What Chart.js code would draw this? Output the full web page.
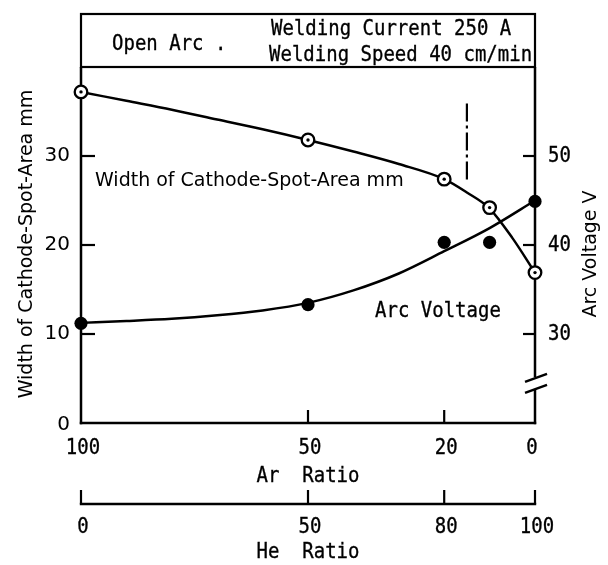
<!DOCTYPE html>
<html><head><meta charset="utf-8">
<script src="https://cdn.jsdelivr.net/npm/chart.js@4/dist/chart.umd.min.js"></script>
<style>html,body{margin:0;padding:0;background:#fff}#wrap{width:608px;height:565px}</style>
</head><body><div id="wrap"><canvas id="c" width="608" height="565"></canvas></div>
<script>
// He ratio (%) of the measured points; Ar ratio = 100 - He
const heRatio = [0, 50, 80, 90, 100];
const widthMm = [37.2, 31.8, 27.4, 24.2, 16.9];
const arcVoltage = [31.2, 33.3, 40.3, 40.3, 44.9];
// hand-drawn curves
const widthFitHe = [0, 10, 20, 30, 40, 50, 60, 70, 80, 85, 90, 95, 100];
const widthFit = [37.2, 36.2, 35.2, 34.1, 33.0, 31.8, 30.5, 29.1, 27.4, 25.9, 24.1, 20.8, 16.9];
const voltageFitHe = [0, 10, 20, 30, 40, 50, 60, 70, 80, 90, 100];
const voltageFit = [31.25, 31.45, 31.7, 32.1, 32.65, 33.5, 34.9, 36.8, 39.3, 41.9, 45.0];
// dash-dot boundary mark
const boundaryHe = [85, 85];
const boundaryWidth = [35.9, 26.9];
// axes
const heTicks = [0, 50, 80, 100];
const arTickLabels = ['100', '50', '20', '0'];
const heTickLabels = ['0', '50', '80', '100'];
const widthTicks = [0, 10, 20, 30];
const voltageTicks = [30, 40, 50];

const pts = (xs, ys) => xs.map((x, i) => ({x: x, y: ys[i]}));

const MONO = '"DejaVu Sans Mono", "Liberation Mono", monospace';
const SANS = '"DejaVu Sans", "Liberation Sans", sans-serif';

function mono(ctx, s, x, y, align) {
  ctx.save();
  ctx.translate(x, y);
  ctx.scale(1, 1.13);
  ctx.font = '19px ' + MONO;
  ctx.textAlign = align || 'center';
  ctx.textBaseline = 'middle';
  ctx.fillStyle = '#000';
  ctx.strokeStyle = '#000';
  ctx.lineWidth = 0.3;
  ctx.fillText(s, 0, 0);
  ctx.strokeText(s, 0, 0);
  ctx.restore();
}
function sans(ctx, s, x, y, align, rot, size) {
  ctx.save();
  ctx.translate(x, y);
  if (rot) ctx.rotate(rot);
  ctx.font = (size || 19) + 'px ' + SANS;
  ctx.textAlign = align || 'center';
  ctx.textBaseline = 'middle';
  ctx.fillStyle = '#000';
  ctx.fillText(s, 0, 0);
  ctx.restore();
}
function line(ctx, x1, y1, x2, y2, w) {
  ctx.beginPath();
  ctx.lineWidth = w || 2.5;
  ctx.moveTo(x1, y1);
  ctx.lineTo(x2, y2);
  ctx.stroke();
}

const decor = {
  id: 'decor',
  beforeDatasetsDraw(chart) {
    const ctx = chart.ctx;
    const xs = chart.scales.x, yl = chart.scales.y, yr = chart.scales.y2;
    const L = xs.getPixelForValue(0), R = xs.getPixelForValue(100);
    const T = yl.getPixelForValue(40), B = yl.getPixelForValue(0);
    ctx.save();
    ctx.strokeStyle = '#000';
    ctx.lineCap = 'butt';
    // header box
    ctx.lineWidth = 2.2;
    ctx.strokeRect(L, 14, R - L, T - 14);
    mono(ctx, 'Open Arc .', 112, 44, 'left');
    mono(ctx, 'Welding Current 250 A', 271, 29, 'left');
    mono(ctx, 'Welding Speed 40 cm/min', 269, 55, 'left');
    // axes
    line(ctx, L, T, L, B + 1.2);
    line(ctx, L - 1.2, B, R + 1.2, B);
    const brk = yr.getPixelForValue(24.5);
    line(ctx, R, T, R, brk - 6);
    line(ctx, R, brk + 6, R, B + 1.2);
    line(ctx, R - 10, brk - 1, R + 12, brk - 9, 2.5);
    line(ctx, R - 10, brk + 10, R + 12, brk + 2, 2.5);
    // left ticks
    widthTicks.forEach(v => {
      const y = yl.getPixelForValue(v);
      if (v > 0) line(ctx, L, y, L + 14, y, 2.2);
      sans(ctx, String(v), L - 11, v === 0 ? y + 2 : y, 'right', 0, 20);
    });
    // right ticks
    voltageTicks.forEach(v => {
      const y = yr.getPixelForValue(v);
      line(ctx, R - 12, y, R, y, 2.2);
      mono(ctx, String(v), R + 13, y, 'left');
    });
    // bottom Ar axis
    heTicks.forEach((h, i) => {
      const x = xs.getPixelForValue(h);
      if (h > 0 && h < 100) line(ctx, x, B - 13, x, B, 2.2);
      mono(ctx, arTickLabels[i], x + (h === 100 ? -3 : 2), B + 25.5, 'center');
    });
    mono(ctx, 'Ar  Ratio', xs.getPixelForValue(50), B + 53, 'center');
    // He axis below
    const H = B + 81;
    line(ctx, L - 1.2, H, R + 1.2, H);
    heTicks.forEach((h, i) => {
      const x = xs.getPixelForValue(h);
      line(ctx, x, H - 14, x, H, 2.2);
      mono(ctx, heTickLabels[i], x + 2, H + 23, 'center');
    });
    mono(ctx, 'He  Ratio', xs.getPixelForValue(50), H + 48, 'center');
    // axis titles
    sans(ctx, 'Width of Cathode-Spot-Area mm', 27, 244, 'center', -Math.PI / 2, 19);
    sans(ctx, 'Arc Voltage V', 591, 254, 'center', -Math.PI / 2, 19);
    // in-plot labels
    sans(ctx, 'Width of Cathode-Spot-Area mm', 95, 181, 'left', 0, 19);
    mono(ctx, 'Arc Voltage', 375, 311, 'left');
    ctx.restore();
  }
};

new Chart(document.getElementById('c'), {
  type: 'scatter',
  data: {
    datasets: [
      { data: pts(widthFitHe, widthFit), yAxisID: 'y', showLine: true, borderColor: '#000', borderWidth: 2.5,
        pointRadius: 0, cubicInterpolationMode: 'monotone', order: 5, clip: false },
      { data: pts(voltageFitHe, voltageFit), yAxisID: 'y2', showLine: true, borderColor: '#000', borderWidth: 2.5,
        pointRadius: 0, cubicInterpolationMode: 'monotone', order: 5, clip: false },
      { data: pts(boundaryHe, boundaryWidth), yAxisID: 'y', showLine: true, borderColor: '#000', borderWidth: 2.2,
        borderDash: [18, 4, 3, 4], pointRadius: 0, order: 5, clip: false },
      { data: pts(heRatio, widthMm), yAxisID: 'y', showLine: false, pointRadius: 6.3, pointBackgroundColor: '#fff',
        pointBorderColor: '#000', pointBorderWidth: 2.3, order: 2, clip: false },
      { data: pts(heRatio, widthMm), yAxisID: 'y', showLine: false, pointRadius: 1.7, pointBackgroundColor: '#000',
        pointBorderColor: '#000', pointBorderWidth: 0, order: 1, clip: false },
      { data: pts(heRatio, arcVoltage), yAxisID: 'y2', showLine: false, pointRadius: 6.6, pointBackgroundColor: '#000',
        pointBorderColor: '#000', pointBorderWidth: 0, order: 2, clip: false }
    ]
  },
  options: {
    responsive: false,
    devicePixelRatio: 1,
    animation: false,
    layout: { padding: { left: 81, right: 73, top: 67, bottom: 142 } },
    plugins: { legend: { display: false }, tooltip: { enabled: false }, title: { display: false } },
    scales: {
      x: { type: 'linear', min: 0, max: 100, display: false },
      y: { type: 'linear', min: 0, max: 40, display: false },
      y2: { type: 'linear', position: 'right', min: 20, max: 60, display: false }
    }
  },
  plugins: [decor]
});
</script>
</body></html>
